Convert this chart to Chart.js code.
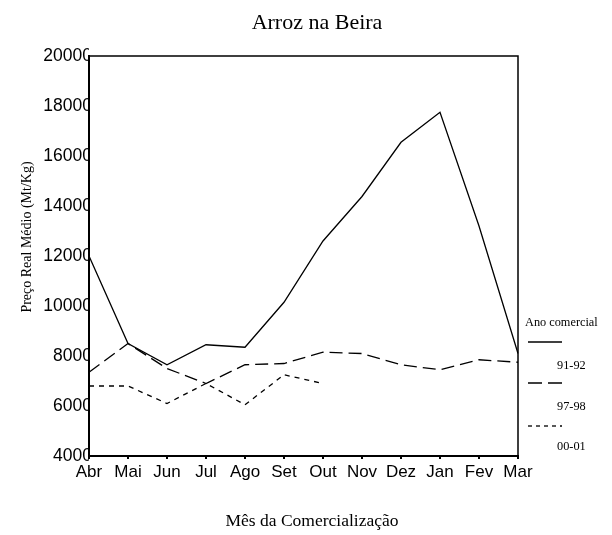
<!DOCTYPE html>
<html>
<head>
<meta charset="utf-8">
<script src="https://cdn.jsdelivr.net/npm/chart.js@4/dist/chart.umd.min.js"></script>
<style>
html,body{margin:0;padding:0;background:#fff;}
#wrap{width:612px;height:535px;position:relative;}
</style>
</head>
<body>
<div id="wrap"><canvas id="c" width="612" height="535"></canvas></div>
<script>
const months = ['Abr','Mai','Jun','Jul','Ago','Set','Out','Nov','Dez','Jan','Fev','Mar'];
const s9192 = [12000, 8500, 7650, 8450, 8350, 10150, 12600, 14380, 16550, 17750, 13200, 8100];
const s9798 = [7350, 8500, 7500, 6900, 7650, 7700, 8150, 8100, 7650, 7450, 7850, 7750];
const s0001 = [6800, 6800, 6100, 6900, 6050, 7250, 6900, null, null, null, null, null];
const yTicks = [4000, 6000, 8000, 10000, 12000, 14000, 16000, 18000, 20000];
const seriesNames = ['91-92', '97-98', '00-01'];
const titleText = 'Arroz na Beira';
const xTitle = 'Mês da Comercialização';
const yTitle = 'Preço Real Médio (Mt/Kg)';
const legendTitle = 'Ano comercial';

const SERIF = '"Liberation Serif", "Times New Roman", serif';
const SANS = '"Liberation Sans", Arial, sans-serif';
const dashes = [[], [13, 6], [5, 5]];
const legendDashes = [[], [14, 6], [4, 4]];

const decor = {
  id: 'decor',
  beforeDatasetsDraw(chart) {
    const {ctx, chartArea: a} = chart;
    ctx.save();
    ctx.strokeStyle = '#000';
    ctx.lineWidth = 1.5;
    ctx.beginPath();
    ctx.moveTo(a.left, a.top);
    ctx.lineTo(a.right, a.top);
    ctx.lineTo(a.right, a.bottom);
    ctx.stroke();
    ctx.restore();
  },
  afterDraw(chart) {
    const ctx = chart.ctx;
    ctx.save();
    ctx.fillStyle = '#000';
    ctx.textBaseline = 'middle';
    // main title
    ctx.font = '22px ' + SERIF;
    ctx.textAlign = 'center';
    ctx.fillText(titleText, 317, 23);
    // x title
    ctx.font = '17.5px ' + SERIF;
    ctx.fillText(xTitle, 312, 521);
    // y title
    ctx.save();
    ctx.translate(27, 237);
    ctx.rotate(-Math.PI / 2);
    ctx.font = '14px ' + SERIF;
    ctx.fillText(yTitle, 0, 0);
    ctx.restore();
    // legend
    ctx.font = '12.3px ' + SERIF;
    ctx.textAlign = 'left';
    ctx.fillText(legendTitle, 525, 323);
    const lineY = [342, 383, 426];
    const textY = [366, 407, 447];
    ctx.strokeStyle = '#000';
    ctx.lineWidth = 1.3;
    for (let i = 0; i < 3; i++) {
      ctx.setLineDash(legendDashes[i]);
      ctx.beginPath();
      ctx.moveTo(528, lineY[i]);
      ctx.lineTo(562, lineY[i]);
      ctx.stroke();
      ctx.fillText(seriesNames[i], 557, textY[i]);
    }
    ctx.restore();
  }
};

new Chart(document.getElementById('c'), {
  type: 'line',
  data: {
    labels: months,
    datasets: [s9192, s9798, s0001].map((d, i) => ({
      label: seriesNames[i],
      data: d,
      borderColor: '#000',
      backgroundColor: '#000',
      borderWidth: 1.3,
      borderDash: dashes[i],
      pointRadius: 0,
      tension: 0,
      fill: false,
      spanGaps: false
    }))
  },
  options: {
    responsive: false,
    animation: false,
    layout: {padding: {left: 0, right: 94, top: 56, bottom: 0}},
    plugins: {legend: {display: false}, title: {display: false}, tooltip: {enabled: false}},
    scales: {
      x: {
        type: 'category',
        offset: false,
        grid: {display: true, drawOnChartArea: false, drawTicks: true, tickLength: 3, color: '#000', lineWidth: 2},
        border: {display: true, color: '#000', width: 2},
        ticks: {color: '#000', font: {family: SANS, size: 17}, padding: 3, maxRotation: 0, autoSkip: false},
        afterFit(s) { s.height = 79; }
      },
      y: {
        min: 4000, max: 20000,
        afterBuildTicks(s) { s.ticks = yTicks.map(v => ({value: v})); },
        grid: {display: false, drawTicks: false},
        border: {display: true, color: '#000', width: 2},
        ticks: {color: '#000', font: {family: SANS, size: 17.5}, padding: -3, callback: v => String(v)},
        afterFit(s) { s.width = 89; }
      }
    }
  },
  plugins: [decor]
});
</script>
</body>
</html>
